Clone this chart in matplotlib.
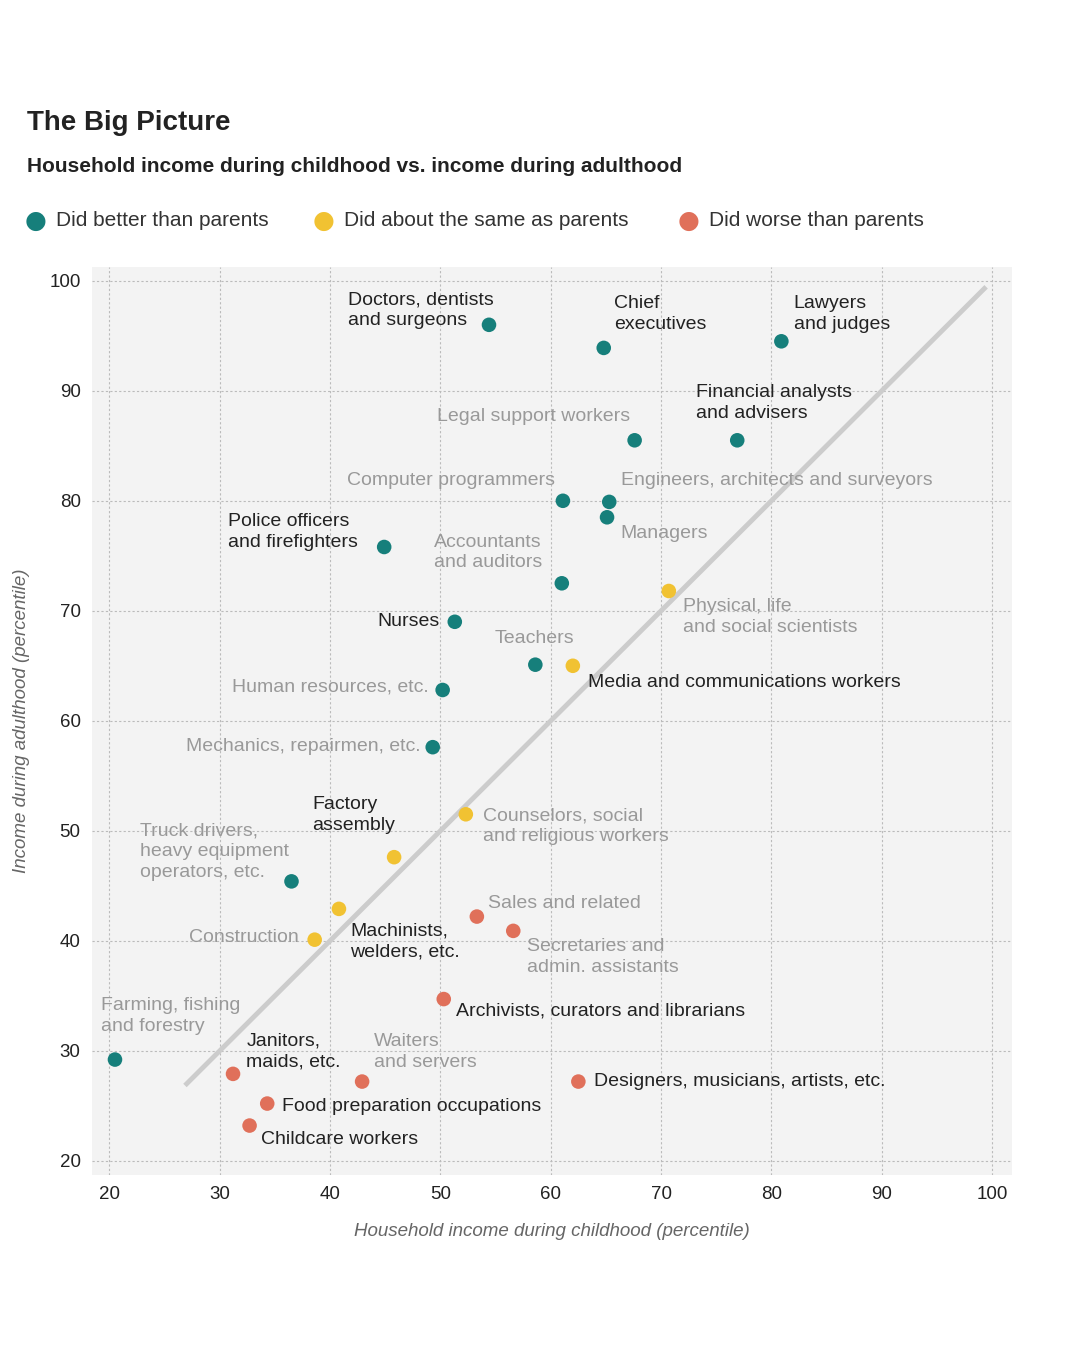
import matplotlib
matplotlib.use("Agg")
import matplotlib.pyplot as plt

plt.rcParams['font.family'] = ['Liberation Sans', 'DejaVu Sans']

# occupation data: childhood percentile, adult percentile, group
names = ["Doctors", "Chief executives", "Lawyers", "Legal support", "Financial",
         "Computer programmers", "Engineers", "Managers", "Police", "Accountants",
         "Physical scientists", "Nurses", "Teachers", "Media", "Human resources",
         "Mechanics", "Counselors", "Factory", "Truck", "Machinists", "Construction",
         "Sales", "Secretaries", "Archivists", "Farming", "Janitors", "Waiters",
         "Designers", "Food prep", "Childcare"]
child = [54.4, 64.8, 80.9, 67.6, 76.9, 61.1, 65.3, 65.1, 44.9, 61.0,
         70.7, 51.3, 58.6, 62.0, 50.2, 49.3, 52.3, 45.8, 36.5, 40.8, 38.6,
         53.3, 56.6, 50.3, 20.5, 31.2, 42.9, 62.5, 34.3, 32.7]
adult = [96.0, 93.9, 94.5, 85.5, 85.5, 80.0, 79.9, 78.5, 75.8, 72.5,
         71.8, 69.0, 65.1, 65.0, 62.8, 57.6, 51.5, 47.6, 45.4, 42.9, 40.1,
         42.2, 40.9, 34.7, 29.2, 27.9, 27.2, 27.2, 25.2, 23.2]
group = ["b", "b", "b", "b", "b", "b", "b", "b", "b", "b",
         "s", "b", "b", "s", "b", "b", "s", "s", "b", "s", "s",
         "w", "w", "w", "b", "w", "w", "w", "w", "w"]

colors = {"b": "#167f7b", "s": "#f1c232", "w": "#e0705a"}
legend_labels = {"b": "Did better than parents", "s": "Did about the same as parents",
                 "w": "Did worse than parents"}

# label text, anchor position, alignment, dark?
labels = [
    ("Doctors, dentists\nand surgeons", 41.6, 97.3, "left", True),
    ("Chief\nexecutives", 65.7, 97.0, "left", True),
    ("Lawyers\nand judges", 82.0, 97.0, "left", True),
    ("Financial analysts\nand advisers", 73.2, 88.9, "left", True),
    ("Legal support workers", 67.2, 87.7, "right", False),
    ("Computer programmers", 60.4, 81.8, "right", False),
    ("Engineers, architects and surveyors", 66.4, 81.8, "left", False),
    ("Managers", 66.3, 77.0, "left", False),
    ("Police officers\nand firefighters", 30.7, 77.2, "left", True),
    ("Accountants\nand auditors", 49.4, 75.3, "left", False),
    ("Physical, life\nand social scientists", 72.0, 69.4, "left", False),
    ("Nurses", 49.9, 69.0, "right", True),
    ("Teachers", 58.5, 67.5, "center", False),
    ("Media and communications workers", 63.4, 63.5, "left", True),
    ("Human resources, etc.", 48.9, 63.1, "right", False),
    ("Mechanics, repairmen, etc.", 48.2, 57.7, "right", False),
    ("Factory\nassembly", 38.4, 51.4, "left", True),
    ("Counselors, social\nand religious workers", 53.9, 50.4, "left", False),
    ("Truck drivers,\nheavy equipment\noperators, etc.", 22.8, 48.1, "left", False),
    ("Sales and related", 54.3, 43.4, "left", False),
    ("Machinists,\nwelders, etc.", 41.8, 39.9, "left", True),
    ("Secretaries and\nadmin. assistants", 57.8, 38.5, "left", False),
    ("Construction", 37.2, 40.3, "right", False),
    ("Archivists, curators and librarians", 51.4, 33.6, "left", True),
    ("Farming, fishing\nand forestry", 19.2, 33.2, "left", False),
    ("Janitors,\nmaids, etc.", 32.4, 29.9, "left", True),
    ("Waiters\nand servers", 44.0, 29.9, "left", False),
    ("Designers, musicians, artists, etc.", 63.9, 27.2, "left", True),
    ("Food preparation occupations", 35.6, 24.9, "left", True),
    ("Childcare workers", 33.7, 21.9, "left", True),
]

fig = plt.figure(figsize=(10.8, 13.46), dpi=100)
ax = fig.add_axes([0.085, 0.127, 0.852, 0.675])
ax.set_facecolor("#f3f3f3")
ax.set_xlim(18.4, 101.8)
ax.set_ylim(18.7, 101.3)
ax.set_xticks(range(20, 101, 10))
ax.set_yticks(range(20, 101, 10))
ax.grid(True, color="#bbbbbb", linestyle=(0, (2, 2)), linewidth=0.8)
ax.set_axisbelow(True)
for s in ax.spines.values():
    s.set_visible(False)
ax.tick_params(length=0, labelsize=13.5, colors="#222222", pad=8)

ax.plot([27, 99.3], [27, 99.3], color="#cccccc", lw=3.5, zorder=1)

for g in ["b", "s", "w"]:
    xs = [c for c, gg in zip(child, group) if gg == g]
    ys = [a for a, gg in zip(adult, group) if gg == g]
    ax.scatter(xs, ys, s=110, color=colors[g], zorder=3, edgecolors="none")

for txt, x, y, ha, dark in labels:
    ax.text(x, y, txt, ha=ha, va="center", fontsize=14, linespacing=1.3,
            color="#222222" if dark else "#999999", zorder=4)

ax.set_xlabel("Household income during childhood (percentile)", fontsize=13.5,
              style="italic", color="#666666", labelpad=14)
ax.set_ylabel("Income during adulthood (percentile)", fontsize=13.5,
              style="italic", color="#666666", labelpad=14)

fig.text(27/1080, 1-123/1346, "The Big Picture", fontsize=20, weight="bold",
         va="center", color="#222222")
fig.text(27/1080, 1-167/1346, "Household income during childhood vs. income during adulthood",
         fontsize=15, weight="bold", va="center", color="#222222")
for g, px in zip(["b", "s", "w"], [36, 324, 689]):
    fig.text(px/1080, 1-221/1346, "\u25cf", fontsize=18, color=colors[g],
             ha="center", va="center", family="DejaVu Sans")
    fig.text((px+20)/1080, 1-221/1346, legend_labels[g], fontsize=15,
             va="center", color="#333333")

fig.savefig("out.png", dpi=100, facecolor="white")
